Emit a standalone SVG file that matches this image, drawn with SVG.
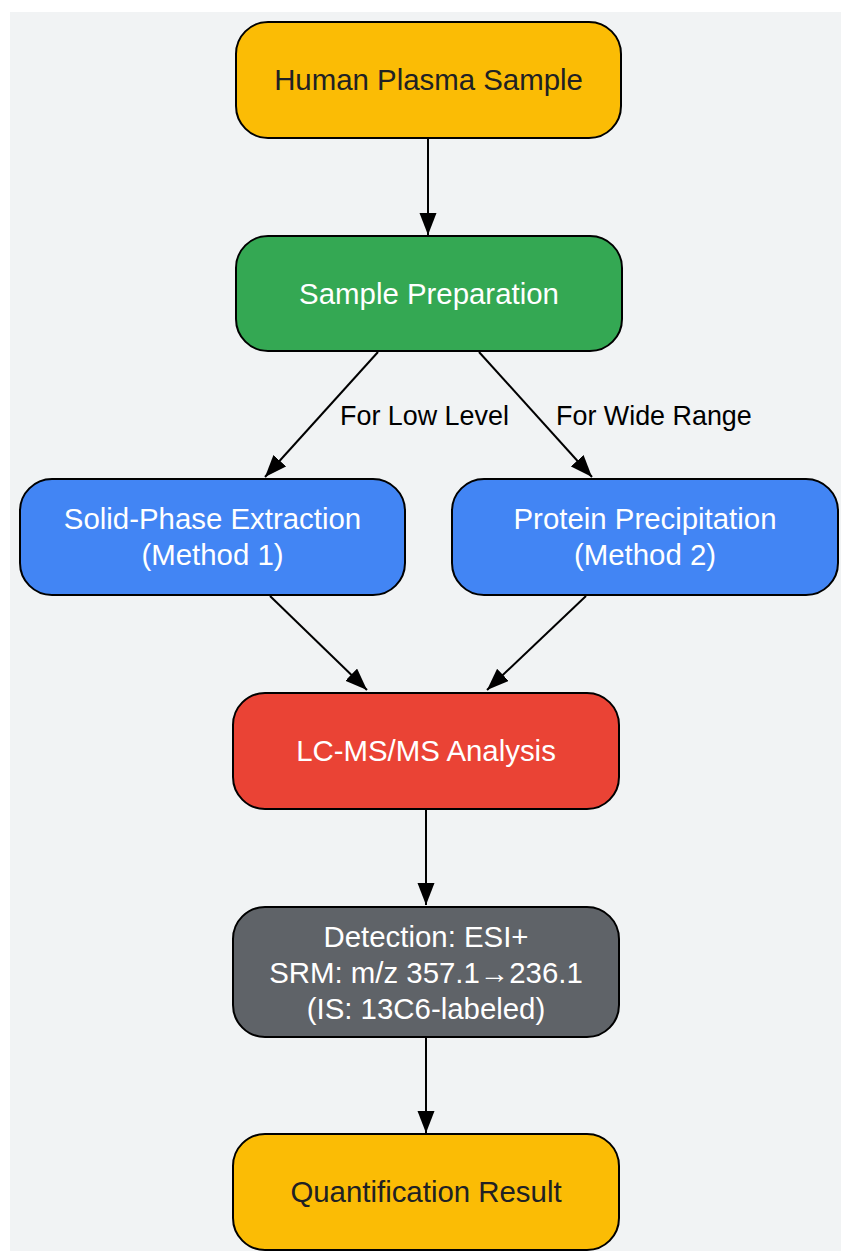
<svg xmlns="http://www.w3.org/2000/svg" width="841" height="1253" viewBox="0 0 841 1253">
  <style>
    .node rect { stroke: #000; stroke-width: 2; }
    .lbl { font-family: "Liberation Sans", Arial, sans-serif; font-size: 29.4px; text-anchor: middle; }
    .dark { fill: #202124; }
    .light { fill: #ffffff; }
    .edge { stroke: #000; stroke-width: 2; fill: none; marker-end: url(#arrow); }
    .elbl { font-family: "Liberation Sans", Arial, sans-serif; font-size: 26.9px; fill: #000; }
  </style>
  <defs>
    <marker id="arrow" markerUnits="userSpaceOnUse" markerWidth="23" markerHeight="18" refX="22" refY="8.5" orient="auto">
      <path d="M0,0 L22,8.5 L0,17 z" fill="#000"/>
    </marker>
  </defs>
  <rect x="0" y="0" width="841" height="1253" fill="#ffffff"/>
  <rect x="10" y="12" width="831" height="1239" fill="#F1F3F4"/>

  <g id="connectors">
    <line class="edge" x1="428" y1="139" x2="428" y2="235"/>
    <line class="edge" x1="378" y1="352" x2="265" y2="477"/>
    <line class="edge" x1="479" y1="352" x2="592" y2="477"/>
    <line class="edge" x1="270" y1="596" x2="367" y2="690"/>
    <line class="edge" x1="586" y1="596" x2="487" y2="690"/>
    <line class="edge" x1="426" y1="809" x2="426" y2="905"/>
    <line class="edge" x1="426" y1="1038" x2="426" y2="1133"/>
    <text class="elbl" x="340" y="425">For Low Level</text>
    <text class="elbl" x="556" y="425">For Wide Range</text>
  </g>

  <g id="n1" class="node">
    <rect x="236" y="22" width="385" height="116" rx="32" fill="#FBBC05"/>
    <text class="lbl dark" x="428.5" y="90">Human Plasma Sample</text>
  </g>
  <g id="n2" class="node">
    <rect x="236" y="236" width="386" height="115" rx="32" fill="#34A853"/>
    <text class="lbl light" x="429" y="303.5">Sample Preparation</text>
  </g>
  <g id="n3" class="node">
    <rect x="20" y="479" width="385" height="116" rx="32" fill="#4285F4"/>
    <text class="lbl light" x="212.5" y="529">Solid-Phase Extraction</text>
    <text class="lbl light" x="212.5" y="565">(Method 1)</text>
  </g>
  <g id="n4" class="node">
    <rect x="452" y="479" width="386" height="116" rx="32" fill="#4285F4"/>
    <text class="lbl light" x="645" y="529">Protein Precipitation</text>
    <text class="lbl light" x="645" y="565">(Method 2)</text>
  </g>
  <g id="n5" class="node">
    <rect x="233" y="693" width="386" height="116" rx="32" fill="#EA4335"/>
    <text class="lbl light" x="426" y="761">LC-MS/MS Analysis</text>
  </g>
  <g id="n6" class="node">
    <rect x="233" y="907" width="386" height="130" rx="32" fill="#5F6368"/>
    <text class="lbl light" x="426" y="946.5">Detection: ESI+</text>
    <text class="lbl light" x="426" y="982.5">SRM: m/z 357.1→236.1</text>
    <text class="lbl light" x="426" y="1018.5">(IS: 13C6-labeled)</text>
  </g>
  <g id="n7" class="node">
    <rect x="233" y="1134" width="386" height="116" rx="32" fill="#FBBC05"/>
    <text class="lbl dark" x="426" y="1202">Quantification Result</text>
  </g>
</svg>
